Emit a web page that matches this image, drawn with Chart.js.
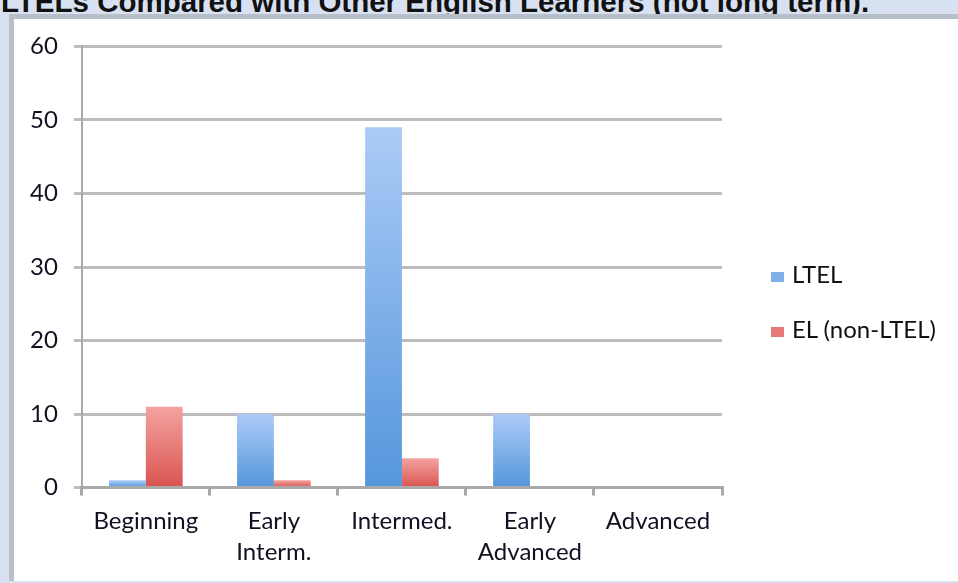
<!DOCTYPE html>
<html>
<head>
<meta charset="utf-8">
<script src="https://cdn.jsdelivr.net/npm/chart.js@4.4.1/dist/chart.umd.min.js"></script>
<style>
  html, body { margin:0; padding:0; }
  body { width:958px; height:583px; background:#d7e1f1; position:relative; overflow:hidden; font-family:Arial, "Liberation Sans", sans-serif; }
  #title { position:absolute; left:1px; top:-15px; font-weight:bold; font-size:29.5px; line-height:1.15; color:#111; white-space:nowrap; }
  #panel { position:absolute; left:9px; top:14px; right:-10px; bottom:2px; background:#fff; border-left:5px solid #b9bfc9; border-top:5px solid #b9bfc9; }
  #wrap { position:absolute; left:0; top:-3px; width:944px; height:567px; }
  #legend { position:absolute; left:757px; top:242px; font-family:Lato, "Open Sans", sans-serif; font-size:24px; color:#111; }
  #legend div { height:55px; line-height:26px; white-space:nowrap; }
  #legend span.box { display:inline-block; width:13px; height:10px; margin-right:8px; vertical-align:1px; }
</style>
</head>
<body>
<div id="title">LTELs Compared with Other English Learners (not long term).</div>
<div id="panel">
  <div id="wrap"><canvas id="chart"></canvas></div>
  <div id="legend"></div>
</div>
<script>
const levels = [['Beginning'], ['Early', 'Interm.'], ['Intermed.'], ['Early', 'Advanced'], ['Advanced']];
const ltel = [1, 10, 49, 10, 0];
const elNonLtel = [11, 1, 4, 0, 0];
const yTicks = [0, 10, 20, 30, 40, 50, 60];
const seriesNames = ['LTEL', 'EL (non-LTEL)'];

const blue = { top:'#abcbf6', bottom:'#5596dc', solid:'#7fb0ea' };
const red = { top:'#f3a3a0', bottom:'#d9544f', solid:'#e77a76' };

function barFill(c){
  return function(ctx){
    const chart = ctx.chart;
    const y = chart.scales && chart.scales.y;
    if(!chart.chartArea || !y || ctx.raw == null) return c.solid;
    const top = y.getPixelForValue(ctx.raw);
    const base = y.getPixelForValue(0);
    if(base - top < 1) return c.solid;
    const g = chart.ctx.createLinearGradient(0, top, 0, base);
    g.addColorStop(0, c.top);
    g.addColorStop(1, c.bottom);
    return g;
  };
}

const textColor = '#111122';
const font = { family:'Lato, "Open Sans", sans-serif', size:24 };

const chart = new Chart(document.getElementById('chart'), {
  type:'bar',
  data:{
    labels: levels,
    datasets:[
      { label:seriesNames[0], data:ltel, backgroundColor:barFill(blue), borderWidth:0, categoryPercentage:0.575, barPercentage:1 },
      { label:seriesNames[1], data:elNonLtel, backgroundColor:barFill(red), borderWidth:0, categoryPercentage:0.575, barPercentage:1 }
    ]
  },
  options:{
    responsive:true,
    maintainAspectRatio:false,
    animation:false,
    layout:{ padding:{ left:0, top:16, right:236, bottom:5 } },
    plugins:{
      tooltip:{ enabled:false },
      legend:{ display:false }
    },
    scales:{
      x:{
        grid:{ display:true, drawOnChartArea:false, drawTicks:true, tickLength:8, color:'#a9a9a9', lineWidth:3 },
        border:{ display:true, color:'#a9a9a9', width:3 },
        ticks:{ color:textColor, font:{ ...font, lineHeight:1.3 }, padding:10, maxRotation:0 }
      },
      y:{
        min:0,
        max:60,
        afterBuildTicks(scale){ scale.ticks = yTicks.map(v => ({ value:v })); },
        grid:{ color:'#bdbdbd', lineWidth:3, tickLength:8, drawTicks:true },
        border:{ display:true, color:'#a9a9a9', width:2 },
        ticks:{ color:textColor, font:font, padding:16 }
      }
    }
  }
});

// legend in html, built from the dataset list
const legendEl = document.getElementById('legend');
chart.data.datasets.forEach((d, i) => {
  const row = document.createElement('div');
  row.innerHTML = '<span class="box" style="background:' + (i === 0 ? blue.solid : red.solid) + '"></span>' + d.label;
  legendEl.appendChild(row);
});
</script>
</body>
</html>
